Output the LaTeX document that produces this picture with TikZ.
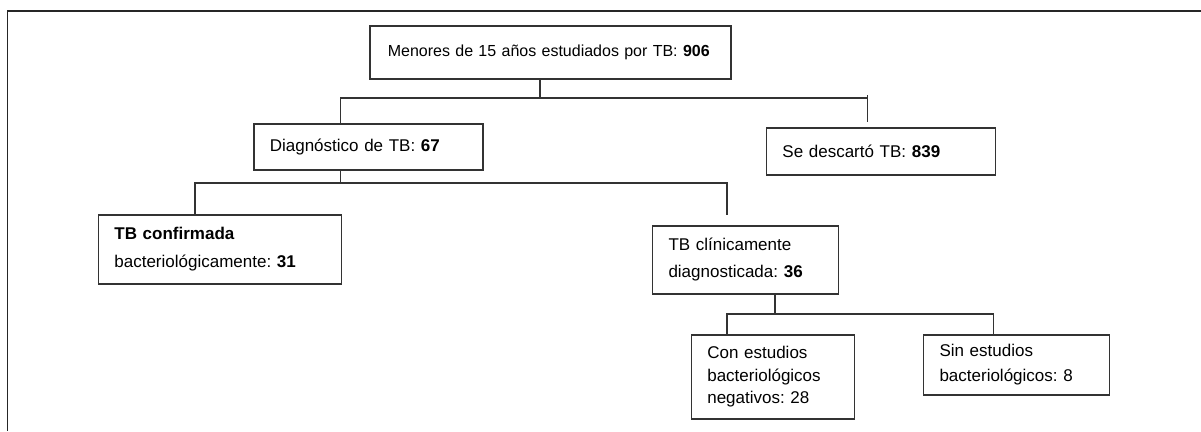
\documentclass[tikz,border=0pt]{standalone}
\usepackage{fontspec}
\setmainfont{Liberation Sans}
\usetikzlibrary{calc}
\frenchspacing

\begin{document}
\begin{tikzpicture} [x=1pt, y=-1pt,
  box/.style={draw=black!80, line width=1.6pt, anchor=north west, align=left,
    inner xsep=16pt, inner ysep=0pt, font=\fontsize{17}{27}\selectfont},
  link/.style={draw=black!80, line width=1.6pt}]
\useasboundingbox (0,0) rectangle (1201,431);
\draw[black!85, line width=1.4pt] (1201,11) -- (7.7,11) -- (7.7,431);
\node[box, text width=339pt, minimum height=53pt, inner xsep=11pt, font=\fontsize{16}{20}\selectfont] (menores) at (369,25) {\hspace*{7pt}Menores de 15 años estudiados por TB: \textbf{906}};
\node[box, text width=197pt, minimum height=46pt] (diag) at (253,123) {Diagnóstico de TB: \textbf{67}};
\node[box, text width=197pt, minimum height=47pt] (descarto) at (765.6,127) {Se descartó TB: \textbf{839}};
\node[box, text width=211pt, minimum height=69pt, font=\fontsize{17}{28}\selectfont] (confirmada) at (97.6,214) {\textbf{TB confirmada}\\bacteriológicamente: \textbf{31}};
\node[box, text width=154pt, minimum height=68pt] (clinica) at (651.7,225) {TB clínicamente\\diagnosticada: \textbf{36}};
\node[box, text width=131pt, minimum height=84pt, font=\fontsize{17}{22.5}\selectfont] (conest) at (690.5,334) {Con estudios\\bacteriológicos\\negativos: 28};
\node[box, text width=154pt, minimum height=60pt, font=\fontsize{17}{25}\selectfont] (sinest) at (922.7,334) {Sin estudios\\bacteriológicos: 8};
% ramas
\coordinate (b1) at (540,98);
\coordinate (b1l) at (340.6,98);
\coordinate (b1r) at (867.5,95);
\coordinate (d1) at (867.5,122);
\coordinate (b2) at (340.6,183);
\coordinate (b2l) at (195,183);
\coordinate (b2r) at (727,183);
\coordinate (d2) at (727,215);
\coordinate (b3) at (775,314);
\coordinate (b3l) at (727,314);
\coordinate (b3r) at (993.6,314);
\draw[link] (menores.south -| b1) -- (b1);
\draw[link] (diag.north -| b1l) |- (b1r |- b1) (b1r) -- (d1);
\draw[link] (diag.south -| b2) -- (b2);
\draw[link] (confirmada.north -| b2l) |- (b2r) -- (d2);
\draw[link] (clinica.south -| b3) -- (b3);
\draw[link] (conest.north -| b3l) |- (b3r) -- (sinest.north -| b3r);
\end{tikzpicture}
\end{document}
